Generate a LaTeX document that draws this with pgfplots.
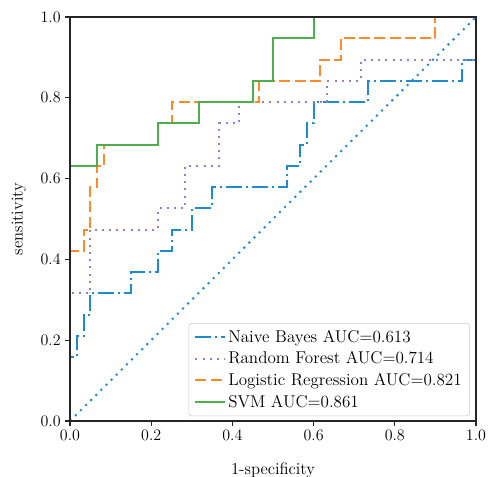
\documentclass[border=0pt]{standalone}
\usepackage{pgfplots}
\pgfplotsset{compat=1.18}
\definecolor{cblue}{HTML}{1F8AD0}
\definecolor{cpurple}{HTML}{9A7CC9}
\definecolor{corange}{HTML}{FD8A2B}
\definecolor{cgreen}{HTML}{4CAE4C}
\begin{document}
\begin{tikzpicture}
\begin{axis}[
  name=ax,
  scale only axis,
  axis on top,
  width=304.5pt, height=303pt,
  xmin=0, xmax=1, ymin=0, ymax=1,
  xtick={0,0.2,0.4,0.6,0.8,1.0},
  ytick={0,0.2,0.4,0.6,0.8,1.0},
  tick align=outside,
  xtick pos=bottom, ytick pos=left,
  major tick length=3.5pt,
  tick style={black!85, line width=0.8pt},
  axis line style={black!85, line width=0.9pt},
  xticklabel style={/pgf/number format/.cd, fixed, fixed zerofill, precision=1},
  yticklabel style={/pgf/number format/.cd, fixed, fixed zerofill, precision=1},
  tick label style={font=\fontsize{12.5}{14}\selectfont},
  label style={font=\fontsize{12.5}{14}\selectfont},
  xlabel={1-specificity},
  ylabel={sensitivity},
  xlabel style={yshift=-9.5pt},
  ylabel style={yshift=4pt},
  legend style={at={(0.985,0.012)}, anchor=south east,
    draw=black!20, rounded corners=2pt, fill=white,
    font=\fontsize{12.8}{13.5}\selectfont,
    row sep=1.6pt, inner xsep=4pt, inner ysep=3pt},
  legend cell align=left,
  legend image code/.code={\draw[#1] (0pt,0pt) -- (22pt,0pt);},
  every axis plot/.append style={line width=1.5pt},
]
\addplot[cblue, dash pattern=on 12pt off 3pt on 1.5pt off 3pt] coordinates {
(0,0)(0,0.1579)(0.0167,0.1579)(0.0167,0.2105)(0.0333,0.2105)(0.0333,0.2632)
(0.05,0.2632)(0.05,0.3158)(0.15,0.3158)(0.15,0.3684)(0.2167,0.3684)(0.2167,0.4211)
(0.25,0.4211)(0.25,0.4737)(0.3,0.4737)(0.3,0.5263)(0.35,0.5263)(0.35,0.5789)
(0.5333,0.5789)(0.5333,0.6316)(0.5667,0.6316)(0.5667,0.6842)(0.5833,0.6842)
(0.5833,0.7368)(0.6,0.7368)(0.6,0.7895)(0.7333,0.7895)(0.7333,0.8421)
(0.9667,0.8421)(0.9667,0.8947)(1,0.8947)(1,1)};
\addlegendentry{Naive Bayes AUC=0.613}
\addplot[cpurple, dash pattern=on 1.5pt off 3.9pt] coordinates {
(0,0)(0,0.3158)(0.05,0.3158)(0.05,0.4737)(0.2167,0.4737)(0.2167,0.5263)
(0.2833,0.5263)(0.2833,0.6316)(0.3667,0.6316)(0.3667,0.7368)(0.4167,0.7368)
(0.4167,0.7895)(0.6333,0.7895)(0.6333,0.8421)(0.7167,0.8421)(0.7167,0.8947)
(1,0.8947)(1,1)};
\addlegendentry{Random Forest AUC=0.714}
\addplot[corange, dash pattern=on 8.25pt off 3.2pt] coordinates {
(0,0)(0,0.4211)(0.0333,0.4211)(0.0333,0.4737)(0.05,0.4737)(0.05,0.5789)
(0.0667,0.5789)(0.0667,0.6316)(0.0833,0.6316)(0.0833,0.6842)(0.2167,0.6842)
(0.2167,0.7368)(0.25,0.7368)(0.25,0.7895)(0.4667,0.7895)(0.4667,0.8421)
(0.6167,0.8421)(0.6167,0.8947)(0.6667,0.8947)(0.6667,0.9474)(0.9,0.9474)
(0.9,1)(1,1)};
\addlegendentry{Logistic Regression AUC=0.821}
\addplot[cgreen, solid] coordinates {
(0,0)(0,0.6316)(0.0667,0.6316)(0.0667,0.6842)(0.2167,0.6842)(0.2167,0.7368)
(0.3167,0.7368)(0.3167,0.7895)(0.45,0.7895)(0.45,0.8421)(0.5,0.8421)
(0.5,0.9474)(0.6,0.9474)(0.6,1)(1,1)};
\addlegendentry{SVM AUC=0.861}
\addplot[cblue, dash pattern=on 1.5pt off 3.9pt, forget plot] coordinates {(0,0)(1,1)};
\end{axis}
\pgfresetboundingbox
\path[use as bounding box] ([shift={(-52.5pt,-42pt)}]ax.south west) rectangle ([shift={(313.5pt,315.75pt)}]ax.south west);
\end{tikzpicture}
\end{document}
